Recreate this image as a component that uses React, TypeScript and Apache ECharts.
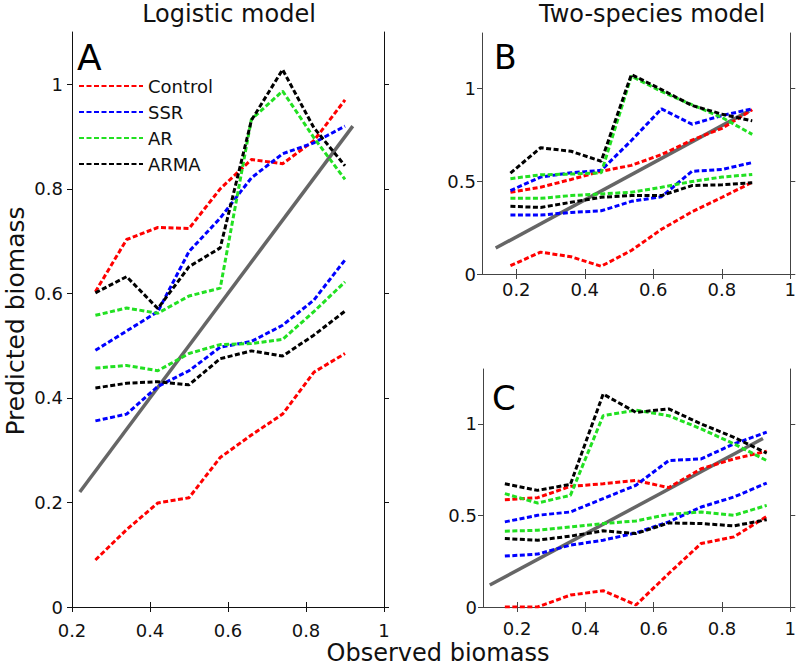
import React, { useEffect, useRef } from "react";
import * as echarts from "echarts";

// ---------- Panel A: Logistic model ----------
const xA = [0.26, 0.34, 0.42, 0.5, 0.58, 0.66, 0.74, 0.82, 0.9];
const aControlHi = [0.603, 0.703, 0.726, 0.724, 0.8, 0.856, 0.848, 0.892, 0.97];
const aControlLo = [0.09, 0.148, 0.199, 0.209, 0.286, 0.329, 0.369, 0.449, 0.485];
const aSSRHi = [0.491, 0.528, 0.565, 0.68, 0.744, 0.821, 0.867, 0.888, 0.92];
const aSSRLo = [0.356, 0.369, 0.422, 0.452, 0.497, 0.508, 0.539, 0.587, 0.664];
const aARHi = [0.558, 0.572, 0.562, 0.595, 0.61, 0.933, 0.987, 0.898, 0.818];
const aARLo = [0.457, 0.462, 0.452, 0.485, 0.502, 0.504, 0.512, 0.565, 0.622];
const aARMAHi = [0.601, 0.632, 0.571, 0.651, 0.687, 0.931, 1.028, 0.917, 0.844];
const aARMALo = [0.419, 0.428, 0.431, 0.425, 0.475, 0.49, 0.48, 0.52, 0.566];
const aDiag = [0.22, 0.92];

// ---------- Panel B: Two-species model ----------
const xB = [0.183, 0.271, 0.36, 0.448, 0.536, 0.624, 0.713, 0.801, 0.889];
const bControlHi = [0.441, 0.468, 0.51, 0.554, 0.586, 0.644, 0.722, 0.786, 0.886];
const bControlLo = [0.045, 0.118, 0.093, 0.042, 0.127, 0.241, 0.336, 0.414, 0.495];
const bSSRHi = [0.45, 0.523, 0.546, 0.559, 0.72, 0.891, 0.808, 0.855, 0.891];
const bSSRLo = [0.318, 0.318, 0.332, 0.341, 0.392, 0.417, 0.554, 0.564, 0.601];
const bARHi = [0.514, 0.535, 0.539, 0.546, 1.067, 0.985, 0.913, 0.844, 0.753];
const bARLo = [0.408, 0.408, 0.423, 0.432, 0.441, 0.468, 0.499, 0.523, 0.537];
const bARMAHi = [0.544, 0.681, 0.662, 0.608, 1.076, 0.995, 0.909, 0.862, 0.826];
const bARMALo = [0.365, 0.359, 0.387, 0.414, 0.423, 0.423, 0.477, 0.481, 0.492];
const bDiag = [0.14, 0.88];

// ---------- Panel C ----------
const xC = [0.164, 0.26, 0.356, 0.452, 0.548, 0.644, 0.739, 0.835, 0.931];
const cControlHi = [0.586, 0.597, 0.659, 0.673, 0.691, 0.652, 0.755, 0.809, 0.851];
const cControlLo = [0.0, 0.0, 0.065, 0.089, 0.011, 0.183, 0.347, 0.383, 0.495];
const cSSRHi = [0.465, 0.501, 0.519, 0.592, 0.665, 0.8, 0.809, 0.891, 0.955];
const cSSRLo = [0.278, 0.289, 0.338, 0.365, 0.405, 0.465, 0.546, 0.601, 0.677];
const cARHi = [0.619, 0.568, 0.61, 1.045, 1.075, 1.045, 0.973, 0.891, 0.8];
const cARLo = [0.414, 0.419, 0.437, 0.456, 0.47, 0.506, 0.519, 0.501, 0.555];
const cARMAHi = [0.673, 0.637, 0.67, 1.163, 1.063, 1.082, 1.0, 0.927, 0.84];
const cARMALo = [0.374, 0.365, 0.387, 0.416, 0.401, 0.459, 0.456, 0.443, 0.477];
const cDiag = [0.12, 0.92];

const seriesNames = ["Control", "SSR", "AR", "ARMA"];
const xTicks = [0.2, 0.4, 0.6, 0.8, 1];
const yTicksA = [0, 0.2, 0.4, 0.6, 0.8, 1];
const yTicksBC = [0, 0.5, 1];

const COLORS: Record<string, string> = {
  Control: "#ff0000",
  SSR: "#0000ff",
  AR: "#22e022",
  ARMA: "#000000",
};

const FONT = "DejaVu Sans";

export default function App() {
  const ref = useRef<HTMLDivElement>(null);

  useEffect(() => {
    const chart = echarts.init(ref.current!, null, { renderer: "svg" });

    const panels = [
      {
        x: xA,
        sets: [
          [aControlHi, aControlLo],
          [aSSRHi, aSSRLo],
          [aARHi, aARLo],
          [aARMAHi, aARMALo],
        ],
        diag: aDiag,
        xMin: 0.2,
        yMax: 1.1,
        yTicks: yTicksA,
        lineColor: "#111",
        xLabelMargin: 14,
        yLabelMargin: 9,
      },
      {
        x: xB,
        sets: [
          [bControlHi, bControlLo],
          [bSSRHi, bSSRLo],
          [bARHi, bARLo],
          [bARMAHi, bARMALo],
        ],
        diag: bDiag,
        xMin: 0.1,
        yMax: 1.3,
        yTicks: yTicksBC,
        lineColor: "#444",
        xLabelMargin: 6,
        yLabelMargin: 6,
      },
      {
        x: xC,
        sets: [
          [cControlHi, cControlLo],
          [cSSRHi, cSSRLo],
          [cARHi, cARLo],
          [cARMAHi, cARMALo],
        ],
        diag: cDiag,
        xMin: 0.1,
        yMax: 1.3,
        yTicks: yTicksBC,
        lineColor: "#444",
        xLabelMargin: 12,
        yLabelMargin: 6,
      },
    ];

    const grids = [
      { left: 72, top: 32, width: 312, height: 575 },
      { left: 482, top: 33, width: 316, height: 241 },
      { left: 483, top: 369, width: 315, height: 238 },
    ];

    const xAxis: any[] = [];
    const yAxis: any[] = [];
    const series: any[] = [];

    panels.forEach((p, i) => {
      const axisLine = { show: true, lineStyle: { color: p.lineColor, width: 1 } };
      const tick = (vals: number[]) => ({
        show: true,
        inside: false,
        length: 5,
        customValues: vals,
        lineStyle: { color: p.lineColor, width: 1 },
      });
      xAxis.push({
        type: "value",
        gridIndex: i,
        position: "bottom",
        min: p.xMin,
        max: 1,
        axisLine,
        axisTick: tick(xTicks),
        axisLabel: {
          customValues: xTicks,
          formatter: (v: number) => String(v),
          fontSize: 18,
          color: "#111",
          fontFamily: FONT,
          margin: p.xLabelMargin,
        },
        splitLine: { show: false },
      });
      xAxis.push({
        type: "value",
        gridIndex: i,
        position: "top",
        min: p.xMin,
        max: 1,
        axisLine,
        axisTick: tick(xTicks),
        axisLabel: { show: false },
        splitLine: { show: false },
      });
      yAxis.push({
        type: "value",
        gridIndex: i,
        position: "left",
        min: 0,
        max: p.yMax,
        axisLine,
        axisTick: tick(p.yTicks),
        axisLabel: {
          customValues: p.yTicks,
          formatter: (v: number) => String(v),
          fontSize: 18,
          color: "#111",
          fontFamily: FONT,
          margin: p.yLabelMargin,
        },
        splitLine: { show: false },
      });
      yAxis.push({
        type: "value",
        gridIndex: i,
        position: "right",
        min: 0,
        max: p.yMax,
        axisLine,
        axisTick: tick(p.yTicks),
        axisLabel: { show: false },
        splitLine: { show: false },
      });

      series.push({
        type: "line",
        name: "diagonal",
        xAxisIndex: 2 * i,
        yAxisIndex: 2 * i,
        data: p.diag.map((v) => [v, v]),
        symbol: "none",
        silent: true,
        lineStyle: { color: "#666666", width: 3.5, type: "solid" },
      });

      p.sets.forEach((pair, k) => {
        const name = seriesNames[k];
        pair.forEach((ys) => {
          series.push({
            type: "line",
            name,
            xAxisIndex: 2 * i,
            yAxisIndex: 2 * i,
            data: p.x.map((xv, j) => [xv, ys[j]]),
            symbol: "none",
            silent: true,
            lineStyle: { color: COLORS[name], width: 3, type: [5, 2.5] },
            itemStyle: { color: COLORS[name] },
          });
        });
      });
    });

    const option: any = {
      animation: false,
      backgroundColor: "#ffffff",
      textStyle: { fontFamily: FONT },
      grid: grids,
      xAxis,
      yAxis,
      series,
      legend: {
        data: seriesNames,
        orient: "vertical",
        left: 78,
        top: 77,
        padding: 0,
        itemWidth: 64,
        itemHeight: 14,
        itemGap: 8,
        selectedMode: false,
        itemStyle: { opacity: 0 },
        textStyle: { fontSize: 18, color: "#111", fontFamily: FONT },
      },
      graphic: [
        {
          type: "text",
          x: 229,
          y: 14,
          style: {
            text: "Logistic model",
            fontSize: 24,
            fontFamily: FONT,
            fill: "#111",
            textAlign: "center",
            textVerticalAlign: "middle",
          },
        },
        {
          type: "text",
          x: 652,
          y: 14,
          style: {
            text: "Two-species model",
            fontSize: 24,
            fontFamily: FONT,
            fill: "#111",
            textAlign: "center",
            textVerticalAlign: "middle",
          },
        },
        {
          type: "text",
          x: 438,
          y: 653,
          style: {
            text: "Observed biomass",
            fontSize: 24,
            fontFamily: FONT,
            fill: "#111",
            textAlign: "center",
            textVerticalAlign: "middle",
          },
        },
        {
          type: "text",
          x: 15,
          y: 321,
          rotation: Math.PI / 2,
          style: {
            text: "Predicted biomass",
            fontSize: 25,
            fontFamily: FONT,
            fill: "#111",
            textAlign: "center",
            textVerticalAlign: "middle",
          },
        },
        {
          type: "text",
          x: 77,
          y: 57,
          style: {
            text: "A",
            fontSize: 36,
            fontFamily: FONT,
            fill: "#000",
            textAlign: "left",
            textVerticalAlign: "middle",
          },
        },
        {
          type: "text",
          x: 494,
          y: 57,
          style: {
            text: "B",
            fontSize: 33,
            fontFamily: FONT,
            fill: "#000",
            textAlign: "left",
            textVerticalAlign: "middle",
          },
        },
        {
          type: "text",
          x: 492,
          y: 398,
          style: {
            text: "C",
            fontSize: 34,
            fontFamily: FONT,
            fill: "#000",
            textAlign: "left",
            textVerticalAlign: "middle",
          },
        },
      ],
    };

    chart.setOption(option);
    return () => chart.dispose();
  }, []);

  return (
    <div
      ref={ref}
      style={{ position: "fixed", left: 0, top: 0, width: 799, height: 666, background: "#fff" }}
    />
  );
}
